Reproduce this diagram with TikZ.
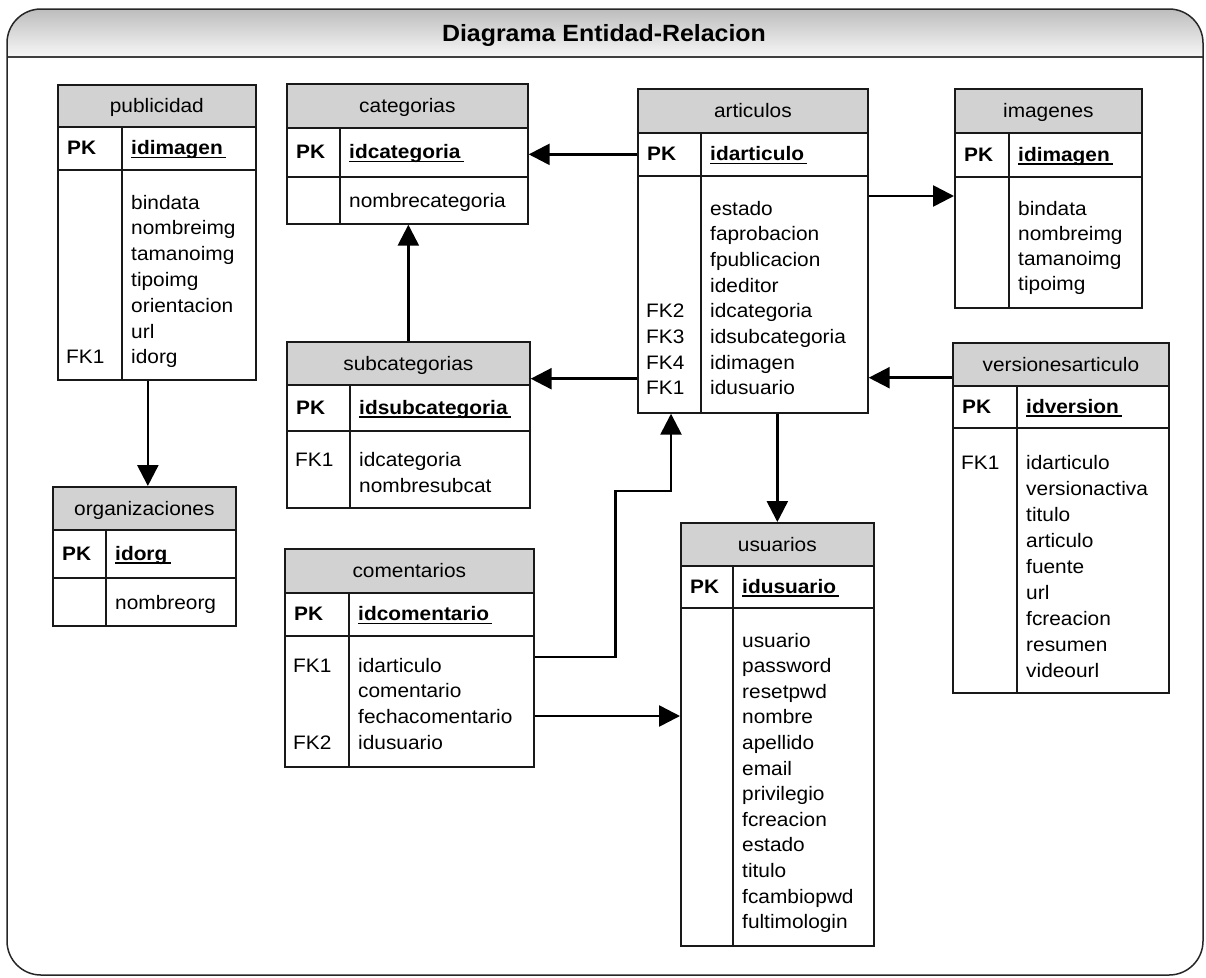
\documentclass[tikz,border=0pt]{standalone}
\usepackage{fontspec}
\setmainfont{Liberation Sans}[FakeStretch=1.07]
\newfontfamily\ttlfont{Liberation Sans}[FakeStretch=1.06]
\usetikzlibrary{arrows.meta}

\definecolor{tblhead}{RGB}{210,210,210}
\definecolor{tblline}{RGB}{25,25,25}

\tikzset{
  tline/.style={draw=tblline, line width=1.7pt},
  tcell/.style={tline, fill=white, inner sep=0pt},
  thead/.style={tline, fill=tblhead, inner sep=0pt, text height=14pt, text depth=0pt,
    font=\fontsize{19.5}{24}\selectfont},
  pklab/.style={inner sep=0pt, text height=14pt, text depth=0pt,
    font=\fontsize{19.5}{24}\selectfont\bfseries},
  pkfld/.style={pklab},
  fld/.style={inner sep=0pt},
  uline/.style={draw=black, line width=1.8pt},
  conn/.style={draw=black, line width=2.6pt, -{Triangle[length=21pt,width=21pt]}},
  ttl/.style={inner sep=0pt, text height=17pt, text depth=0pt,
    font=\ttlfont\bfseries\fontsize{23.5}{28}\selectfont},
}

% table frame: name, left, right, divider x, top, header bottom, key bottom, body bottom
\newcommand\ertab[8]{%
  \xdef\tN{#1}\xdef\tL{#2}\xdef\tR{#3}\xdef\tD{#4}%
  \xdef\tA{#5}\xdef\tB{#6}\xdef\tC{#7}\xdef\tE{#8}%
  \node[tcell, minimum width={#3-#2}, minimum height={#8-#7}, anchor=north west] (#1-b) at (#2,#7) {};
  \node[tcell, minimum width={#3-#2}, minimum height={#7-#6}, anchor=north west] (#1-k) at (#2,#6) {};
  \draw[tline] (#4,#6) -- (#4,#8);
}
% table name and primary key
\newcommand\ertitle[2]{%
  \node[thead, minimum width={\tR-\tL}, minimum height={\tB-\tA}, anchor=north west] (\tN-h) at (\tL,\tA) {#1};
  \node[pklab, anchor=west] (\tN-pk) at ({\tL+10},{(\tB+\tC)/2}) {PK};
  \node[pkfld, anchor=west] (\tN-id) at ({\tD+9},{(\tB+\tC)/2}) {#2};
  \draw[uline] ([yshift=-3pt]\tN-id.base west) -- ([shift={(3pt,-3pt)}]\tN-id.base east);
}
% attribute column: rows, first baseline, row pitch
\newcommand\erfields[3]{%
  \node[fld, anchor=base west] (\tN-f) at ({\tD+9},#2)
    {\fontsize{19.5}{#3}\selectfont\begin{tabular}[t]{@{}l@{}}#1\end{tabular}};
}
% foreign key marker column
\newcommand\erkeys[3]{%
  \node[fld, anchor=base west] (\tN-fk) at ({\tL+9},#2)
    {\fontsize{19.5}{#3}\selectfont\begin{tabular}[t]{@{}l@{}}#1\end{tabular}};
}

\begin{document}
\begin{tikzpicture}[x=1pt, y=-1pt]
\useasboundingbox (0,0) rectangle (1206,977);

% outer frame with shaded title band
\begin{scope}
  \clip[rounded corners=34pt] (7,9) rectangle (1203,975);
  \shade[top color=black!26, bottom color=black!3] (7,9) rectangle (1203,57);
\end{scope}
\draw[line width=2.6pt, draw=black!75] (7,57) -- (1203,57);
\draw[line width=1.5pt, draw=black!85, rounded corners=34pt] (7,9) rectangle (1203,975);
\node[ttl] (title) at (604,33) {Diagrama Entidad-Relacion};

% tables
\ertab{pub}{57}{255}{122}{84}{126}{169}{379}
\ertitle{publicidad}{idimagen}
\erkeys{\\ \\ \\ \\ \\ \\ FK1}{209}{25.8}
\erfields{bindata\\nombreimg\\tamanoimg\\tipoimg\\orientacion\\url\\idorg}{209}{25.8}

\ertab{cat}{286}{527}{340}{83}{127}{176}{223}
\ertitle{categorias}{idcategoria}
\erfields{nombrecategoria}{207}{25.8}

\ertab{art}{637}{867}{701}{88}{132}{175}{412}
\ertitle{articulos}{idarticulo}
\erkeys{\\ \\ \\ \\ FK2\\FK3\\FK4\\FK1}{215}{25.7}
\erfields{estado\\faprobacion\\fpublicacion\\ideditor\\idcategoria\\idsubcategoria\\idimagen\\idusuario}{215}{25.7}

\ertab{img}{954}{1141}{1009}{88}{132}{176}{307}
\ertitle{imagenes}{idimagen}
\erfields{bindata\\nombreimg\\tamanoimg\\tipoimg}{215}{25}

\ertab{ver}{952}{1168}{1017}{342}{385}{427}{692}
\ertitle{versionesarticulo}{idversion}
\erkeys{FK1}{469}{26}
\erfields{idarticulo\\versionactiva\\titulo\\articulo\\fuente\\url\\fcreacion\\resumen\\videourl}{469}{26}

\ertab{sub}{286}{529}{350}{341}{384}{430}{507}
\ertitle{subcategorias}{idsubcategoria}
\erkeys{FK1}{466}{26}
\erfields{idcategoria\\nombresubcat}{466}{26}

\ertab{org}{52}{235}{106}{486}{529}{577}{625}
\ertitle{organizaciones}{idorg}
\erfields{nombreorg}{609}{25.8}

\ertab{com}{284}{533}{349}{548}{592}{635}{766}
\ertitle{comentarios}{idcomentario}
\erkeys{FK1\\ \\ \\FK2}{672}{25.8}
\erfields{idarticulo\\comentario\\fechacomentario\\idusuario}{672}{25.8}

\ertab{usr}{680}{873}{733}{522}{565}{607}{945}
\ertitle{usuarios}{idusuario}
\erfields{usuario\\password\\resetpwd\\nombre\\apellido\\email\\privilegio\\fcreacion\\estado\\titulo\\fcambiopwd\\fultimologin}{647}{25.6}

% relationship endpoints
\coordinate (subin) at ([yshift=7pt]sub-h.south east);
\coordinate (imgin) at ([yshift=-20pt]img-b.north west);
\coordinate (verout) at ([yshift=9pt]ver-h.south west);
\coordinate (orgin) at ([xshift=3.5pt]org-h.north);
\coordinate (comout) at ([yshift=-22pt]com-b.north east);
\coordinate (comout2) at ([yshift=-81pt]com-b.north east);
\coordinate (artin) at ([xshift=34pt]art-b.south west);

% relationships
\draw[conn] (art-k.west) -- (art-k.west -| cat-k.east);
\draw[conn] (art-b.west |- subin) -- (subin);
\draw[conn] (sub-h.north) -- (sub-h.north |- cat-b.south);
\draw[conn] (art-b.east |- imgin) -- (imgin);
\draw[conn] (verout) -- (verout -| art-b.east);
\draw[conn] (art-b.south -| usr-h.north) -- (usr-h.north);
\draw[conn] (pub-b.south -| orgin) -- (orgin);
\draw[conn] (comout) -- ++(81,0) -- ++(0,-166) -| (artin);
\draw[conn] (comout2) -- (comout2 -| usr-b.west);
\end{tikzpicture}
\end{document}
